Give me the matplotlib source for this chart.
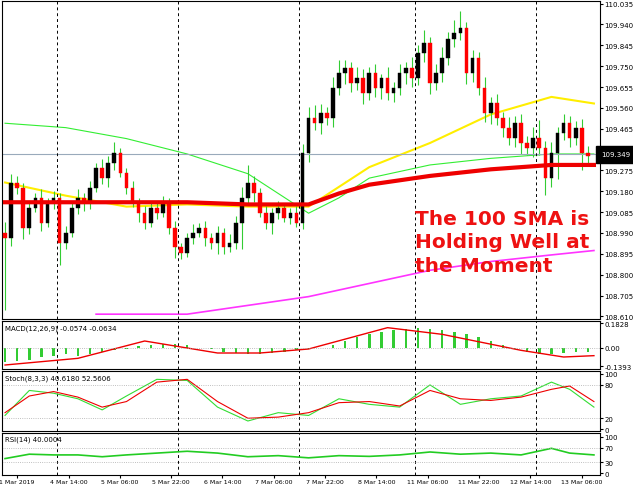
import matplotlib
matplotlib.use("Agg")
import matplotlib.pyplot as plt
import numpy as np

closes = [108.969,109.218,109.196,109.014,109.105,109.150,109.037,109.128,109.150,108.946,
          108.992,109.105,109.150,109.128,109.196,109.287,109.241,109.309,109.355,109.264,
          109.196,109.128,109.082,109.037,109.105,109.082,109.128,109.014,108.924,108.901,
          108.969,108.992,109.014,108.969,108.946,108.992,108.924,108.946,109.037,109.150,
          109.218,109.173,109.082,109.037,109.082,109.105,109.060,109.082,109.037,109.355,
          109.513,109.491,109.536,109.513,109.650,109.718,109.740,109.672,109.695,109.627,
          109.718,109.650,109.695,109.627,109.650,109.718,109.740,109.695,109.808,109.854,
          109.672,109.718,109.786,109.876,109.899,109.922,109.718,109.786,109.650,109.536,
          109.581,109.513,109.468,109.423,109.491,109.400,109.377,109.423,109.377,109.241,
          109.355,109.445,109.491,109.423,109.468,109.355,109.341]
wick_up = [0.05,0.04,0.03,0.02,0.03,0.02,0.04,0.02,0.03,0.02,0.03,0.02,0.04,0.02,0.03,0.02,0.04,0.03,0.05,0.02,
           0.02,0.03,0.02,0.03,0.02,0.02,0.03,0.02,0.03,0.02,0.02,0.04,0.02,0.03,0.02,0.03,0.02,0.04,0.03,0.05,
           0.08,0.03,0.02,0.03,0.02,0.03,0.02,0.02,0.03,0.04,0.05,0.06,0.04,0.03,0.05,0.06,0.04,0.03,0.05,0.04,
           0.03,0.04,0.02,0.05,0.03,0.04,0.03,0.05,0.04,0.06,0.03,0.04,0.05,0.03,0.06,0.08,0.03,0.04,0.03,0.05,
           0.03,0.04,0.03,0.05,0.03,0.04,0.03,0.05,0.08,0.03,0.05,0.03,0.04,0.03,0.03,0.04,0.03]
wick_dn = [0.33,0.04,0.03,0.05,0.03,0.02,0.04,0.02,0.03,0.10,0.03,0.02,0.03,0.04,0.03,0.02,0.03,0.04,0.03,0.02,
           0.03,0.02,0.04,0.03,0.02,0.03,0.02,0.03,0.05,0.03,0.02,0.03,0.02,0.04,0.03,0.05,0.03,0.02,0.03,0.12,
           0.03,0.04,0.02,0.03,0.05,0.03,0.02,0.03,0.02,0.03,0.04,0.03,0.05,0.03,0.04,0.03,0.05,0.04,0.03,0.05,
           0.03,0.04,0.05,0.03,0.04,0.03,0.05,0.04,0.03,0.04,0.05,0.03,0.04,0.03,0.04,0.03,0.05,0.04,0.03,0.04,
           0.05,0.03,0.04,0.03,0.04,0.05,0.03,0.04,0.03,0.08,0.04,0.12,0.03,0.04,0.03,0.08,0.04]

ma_x = [0,10,20,30,40,50,55,60,70,80,90,97]
sma100 = [109.13,109.13,109.13,109.13,109.12,109.12,109.17,109.21,109.25,109.28,109.30,109.30]
sma_yellow = [109.22,109.16,109.11,109.12,109.11,109.11,109.20,109.29,109.40,109.53,109.61,109.58]
ma_gx = [0,10,20,30,40,50,55,60,70,80,90,97]
sma_green = [109.49,109.47,109.42,109.35,109.26,109.08,109.15,109.24,109.30,109.33,109.35,109.35]
ma_mx = [15,30,50,60,70,80,90,97]
sma_magenta = [108.62,108.62,108.70,108.76,108.82,108.86,108.89,108.91]

hist = [-0.11,-0.10,-0.09,-0.07,-0.06,-0.05,-0.06,-0.05,-0.03,-0.02,-0.01,0.01,0.02,0.03,0.03,0.02,0.0,-0.01,
        -0.03,-0.04,-0.05,-0.05,-0.04,-0.03,-0.02,-0.01,0.0,0.02,0.05,0.08,0.10,0.12,0.13,0.14,0.15,0.14,0.13,
        0.12,0.10,0.08,0.05,0.02,-0.01,-0.03,-0.05,-0.05,-0.04,-0.03,-0.03]
sig_x = [0,12,23,35,42,50,63,72,85,92,97]
signal = [-0.13,-0.08,0.05,-0.04,-0.04,-0.01,0.15,0.10,-0.02,-0.07,-0.06]
st_x = [0,4,8,12,16,20,25,30,35,40,45,50,55,60,65,70,75,80,85,90,93,97]
stoch_k = [25,70,65,55,35,60,90,88,40,15,30,25,55,45,40,80,45,55,60,85,72,40]
stoch_d = [30,60,68,58,40,50,85,90,50,20,22,30,48,50,42,70,55,52,58,72,78,50]
rsi_x = [0,4,8,12,16,20,25,30,35,40,45,50,55,60,65,70,75,80,85,90,93,97]
rsi = [40,52,50,50,45,50,55,60,55,45,48,42,48,46,50,58,52,55,50,68,55,50]
xlabels = ["1 Mar 2019","4 Mar 14:00","5 Mar 06:00","5 Mar 22:00","6 Mar 14:00","7 Mar 06:00",
           "7 Mar 22:00","8 Mar 14:00","11 Mar 06:00","11 Mar 22:00","12 Mar 14:00","13 Mar 06:00"]

W, H = 633, 485
fig = plt.figure(figsize=(W/100, H/100), dpi=100)
fig.patch.set_facecolor("white")
def ax_px(y0, y1):
    return fig.add_axes([2/W, 1-y1/H, 598/W, (y1-y0)/H])
ax = ax_px(2, 320); am = ax_px(322, 370); ast = ax_px(372, 432); ar = ax_px(434, 476)
n = len(closes)
xs = np.arange(n)
opens = [closes[0]+0.02] + closes[:-1]
for i in xs:
    o, c = opens[i], closes[i]
    hi = max(o, c)+wick_up[i]; lo = min(o, c)-wick_dn[i]
    ax.vlines(i, lo, hi, color="#33cc33", lw=0.8, zorder=2)
    col = "black" if c >= o else "#ff0000"
    ax.bar(i, max(abs(c-o), 0.004), bottom=min(o, c), width=0.6, color=col, edgecolor=col, lw=0.3, zorder=3)
ax.plot(ma_gx, sma_green, color="#33ee33", lw=0.8, zorder=1)
ax.plot(ma_x, sma_yellow, color="#ffee00", lw=1.5, zorder=1)
ax.plot(ma_mx, sma_magenta, color="#ff33ff", lw=1.2, zorder=1)
ax.plot(ma_x, sma100, color="#ee0000", lw=3, zorder=4)
ax.axhline(109.349, color="#99aabb", lw=0.8)
ax.set_ylim(108.598, 110.047)
ax.text(67.5, 109.10, "The 100 SMA is\nHolding Well at\nthe Moment", color="#ee1111", fontsize=14.5,
        fontweight="bold", va="top", ha="left", linespacing=1.3)
ticks = np.round(np.arange(108.610, 110.04, 0.095), 3)
for a in (ax, am, ast, ar):
    a.set_xlim(-0.5, 98)
    a.yaxis.tick_right()
    a.tick_params(axis="y", labelsize=5, length=2, pad=1)
    a.tick_params(axis="x", length=0)
    a.set_xticklabels([])
    for xv in (8.5, 28.5, 48.5, 67.5, 87.5):
        a.axvline(xv, color="black", ls=(0, (3, 3)), lw=0.7)
ax.set_yticks(ticks); ax.set_yticklabels([f"{t:.3f}" for t in ticks])
ax.text(1.002, 109.349, "109.349", transform=ax.get_yaxis_transform(), fontsize=5, color="white",
        backgroundcolor="black", va="center", ha="left")
hx = np.arange(0, n, 2)[:len(hist)]
am.bar(hx, hist, width=0.4, color="#33cc33")
am.plot(sig_x, signal, color="#ee0000", lw=1)
am.axhline(0, color="#aaaaaa", ls=":", lw=0.6)
am.set_ylim(-0.16, 0.20); am.set_yticks([-0.1393, 0, 0.1828]); am.set_yticklabels(["-0.1393", "0.00", "0.1828"])
am.text(0.005, 0.93, "MACD(12,26,9) -0.0574 -0.0634", transform=am.transAxes, fontsize=5, va="top")
ast.plot(st_x, stoch_k, color="#33dd33", lw=0.8)
ast.plot(st_x, stoch_d, color="#ee0000", lw=0.8)
for v in (20, 80): ast.axhline(v, color="#aaaaaa", ls=":", lw=0.6)
ast.set_ylim(-3, 105); ast.set_yticks([0, 20, 80, 100])
ast.text(0.005, 0.95, "Stoch(8,3,3) 40.6180 52.5606", transform=ast.transAxes, fontsize=5, va="top")
ar.plot(rsi_x, rsi, color="#22cc22", lw=1.2)
for v in (30, 70): ar.axhline(v, color="#aaaaaa", ls=":", lw=0.6)
ar.set_ylim(-5, 110); ar.set_yticks([0, 30, 70, 100])
ar.text(0.005, 0.95, "RSI(14) 40.0004", transform=ar.transAxes, fontsize=5, va="top")
ar.set_xticks(np.linspace(2, 95, len(xlabels)))
ar.set_xticklabels(xlabels, fontsize=4.5)
ar.tick_params(axis="x", length=2, pad=1)
fig.savefig("out.png", dpi=100)
